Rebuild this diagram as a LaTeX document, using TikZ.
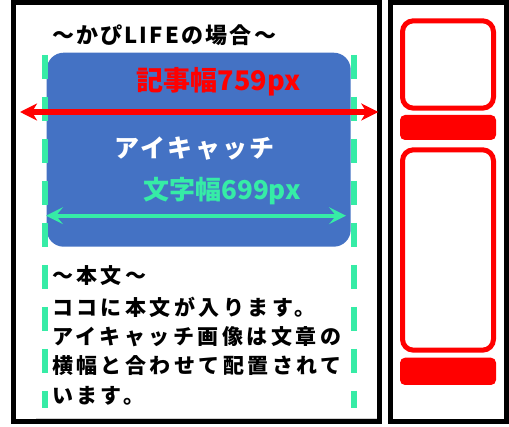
\documentclass[tikz,border=0pt]{standalone}
\usepackage{fontspec}
\newfontfamily\jp{Noto Sans CJK JP}
\usetikzlibrary{arrows.meta}
\definecolor{kblue}{RGB}{68,114,196}
\definecolor{kgreen}{RGB}{54,236,166}
\definecolor{kred}{RGB}{255,0,0}
\tikzset{
  frame/.style={draw=black, line width=5pt},
  redbox/.style={draw=kred, line width=5pt, rounded corners=11pt},
  redbar/.style={fill=kred, rounded corners=5pt},
  guide/.style={draw=kgreen, line width=6.5pt, dash pattern=on 24pt off 18pt},
  jptext/.style={inner sep=0pt, outer sep=0pt},
  bodyline/.style={jptext, anchor=west, text=black,
    font={\jp\bfseries\fontsize{21}{21}\selectfont\addfontfeature{LetterSpace=16.5}}},
}
\begin{document}
\begin{tikzpicture}[x=1pt,y=-1pt]
\useasboundingbox (0,0) rectangle (509,427);
\fill[white] (0,0) rectangle (509,427);
% faint shadow
\draw[gray!35, line width=1.5pt] (36,418.3) -- (377,418.3);
% frames
\draw[frame] (13.5,2.5) rectangle (379.2,421.5);
\draw[frame] (390.8,2.5) rectangle (506.5,421.5);
% sidebar
\draw[redbox] (402.5,20.8) rectangle (493.5,108.2);
\fill[redbar] (400,115) rectangle (496,140);
\draw[redbox] (402.5,149.8) rectangle (493.5,350.2);
\fill[redbar] (400,357.7) rectangle (496,385);
% eyecatch
\fill[kblue, rounded corners=17pt] (46.7,52.7) rectangle (350.7,246.7);
% guides
\coordinate (gl1) at (45,55);
\coordinate (gl2) at (45,408);
\coordinate (gr1) at (354,55);
\coordinate (gr2) at (354,408);
\draw[guide] (gl1) -- (gl2);
\draw[guide] (gr1) -- (gr2);
% red arrow
\coordinate (ra) at (20,112);
\coordinate (rb) at (378.3,112);
\draw[kred, line width=5.5pt,
  {Stealth[length=17pt,width=17pt,inset=5pt]}-{Stealth[length=17pt,width=17pt,inset=5pt]}] (ra) -- (rb);
% green arrow
\coordinate (ga) at (46,215.7);
\coordinate (gb) at (346,215.7);
\draw[kgreen, line width=4pt,
  {Stealth[length=17pt,width=17pt,inset=7pt]}-{Stealth[length=17pt,width=17pt,inset=7pt]}] (ga) -- (gb);
% texts
\node[jptext, anchor=west, text=black,
  font={\jp\bfseries\fontsize{22}{22}\selectfont\addfontfeature{LetterSpace=10}}]
  (title) at (52,35) {～かぴLIFEの場合～};
\node[jptext, text=kred, font={\jp\bfseries\fontsize{27}{27}\selectfont}]
  (kiji) at (218.5,82) {記事幅759px};
\node[jptext, text=white, font={\jp\bfseries\fontsize{25}{25}\selectfont\addfontfeature{LetterSpace=9}}]
  (eye) at (194.7,148.3) {アイキャッチ};
\node[jptext, text=kgreen, font={\jp\bfseries\fontsize{26}{26}\selectfont}]
  (moji) at (222,191.5) {文字幅699px};
\node[bodyline] (b1) at (52,276) {～本文～};
\node[bodyline] (b2) at (52,307) {ココに本文が入ります。};
\node[bodyline] (b3) at (52,337) {アイキャッチ画像は文章の};
\node[bodyline] (b4) at (52,365.5) {横幅と合わせて配置されて};
\node[bodyline] (b5) at (52,396) {います。};
\end{tikzpicture}
\end{document}
